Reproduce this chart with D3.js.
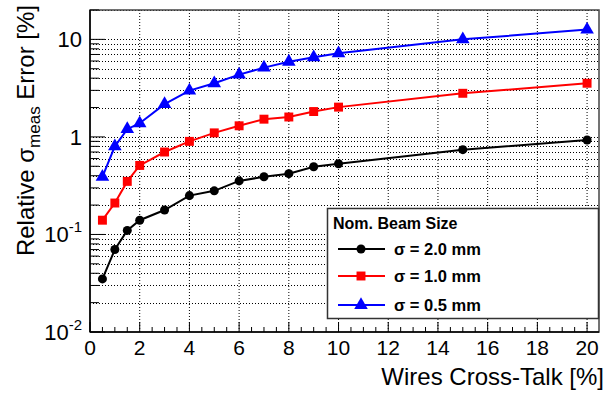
<!DOCTYPE html>
<html>
<head>
<meta charset="utf-8">
<script src="https://cdn.jsdelivr.net/npm/d3@7"></script>
<style>
  body { margin: 0; background: #fff; }
  svg { font-family: "Liberation Sans", Arial, sans-serif; }
</style>
</head>
<body>
<div id="chart"></div>
<script>
// wires cross-talk [%]
let crossTalk = [0.5, 1, 1.5, 2, 3, 4, 5, 6, 7, 8, 9, 10, 15, 20];
// relative sigma error [%] per beam size
let sigma20 = [0.035, 0.070, 0.11, 0.14, 0.178, 0.25, 0.28, 0.354, 0.39, 0.42, 0.495, 0.53, 0.74, 0.93];
let sigma10 = [0.14, 0.21, 0.35, 0.51, 0.70, 0.90, 1.1, 1.3, 1.52, 1.6, 1.82, 2.02, 2.8, 3.55];
let sigma05 = [0.39, 0.80, 1.2, 1.38, 2.17, 2.98, 3.55, 4.35, 5.13, 5.9, 6.55, 7.2, 10.0, 12.6];
let seriesNames = ['σ = 2.0 mm', 'σ = 1.0 mm', 'σ = 0.5 mm'];
let seriesColors = ['#000000', '#ff0000', '#0000ff'];
let seriesShapes = [d3.symbolCircle, d3.symbolSquare, d3.symbolTriangle];
let xTicks = [0, 2, 4, 6, 8, 10, 12, 14, 16, 18, 20];
let yMajor = [0.01, 0.1, 1, 10];
let yExp = ['-2', '-1', '', ''];

let width = 615, height = 393;
let margin = {left: 90, top: 10, right: 16, bottom: 61};
let w = width - margin.left - margin.right;
let h = height - margin.top - margin.bottom;

let svg = d3.select('#chart').append('svg')
    .attr('width', width)
    .attr('height', height);

let x = d3.scaleLinear().domain([0, 20.48]).range([margin.left, margin.left + w]);
let y = d3.scaleLog().domain([0.01, 20]).range([margin.top + h, margin.top]);

// minor log ticks
let yMinor = [];
[0.01, 0.1, 1, 10].forEach(function (d) {
    for (let k = 2; k <= 9; k++) {
        let v = d * k;
        if (v <= 20) yMinor.push(v);
    }
});
let xMinor = d3.range(0, 20.01, 0.5).filter(d => d % 2 != 0);

// grid
let grid = svg.append('g');
grid.selectAll('.gx')
    .data(xTicks.filter(d => d > 0))
    .enter().append('line')
    .attr('x1', d => x(d)).attr('x2', d => x(d))
    .attr('y1', margin.top).attr('y2', margin.top + h)
    .attr('stroke', '#000').attr('stroke-width', 1)
    .attr('stroke-dasharray', '1,2');
grid.selectAll('.gy')
    .data(yMajor.filter(d => d > 0.01).concat(yMinor))
    .enter().append('line')
    .attr('x1', margin.left).attr('x2', margin.left + w)
    .attr('y1', d => Math.round(y(d)) + 0.5).attr('y2', d => Math.round(y(d)) + 0.5)
    .attr('stroke', '#000').attr('stroke-width', 1)
    .attr('stroke-dasharray', '1,2');

// frame
svg.append('rect')
    .attr('x', margin.left).attr('y', margin.top)
    .attr('width', w).attr('height', h)
    .attr('fill', 'none').attr('stroke', '#444').attr('stroke-width', 1.5);

// axis ticks (inside)
let axes = svg.append('g').attr('stroke', '#000').attr('stroke-width', 1);
axes.selectAll('.xt')
    .data(xTicks)
    .enter().append('line')
    .attr('x1', d => x(d)).attr('x2', d => x(d))
    .attr('y1', margin.top + h).attr('y2', margin.top + h - 10);
axes.selectAll('.xm')
    .data(xMinor)
    .enter().append('line')
    .attr('x1', d => x(d)).attr('x2', d => x(d))
    .attr('y1', margin.top + h).attr('y2', margin.top + h - 5);
axes.selectAll('.yt')
    .data(yMajor)
    .enter().append('line')
    .attr('x1', margin.left).attr('x2', margin.left + 15)
    .attr('y1', d => y(d)).attr('y2', d => y(d));
axes.selectAll('.ym')
    .data(yMinor)
    .enter().append('line')
    .attr('x1', margin.left).attr('x2', margin.left + 9)
    .attr('y1', d => y(d)).attr('y2', d => y(d));
axes.append('line')
    .attr('x1', margin.left).attr('x2', margin.left + w)
    .attr('y1', margin.top + h).attr('y2', margin.top + h)
    .attr('stroke-width', 1.5);
axes.append('line')
    .attr('x1', margin.left).attr('x2', margin.left)
    .attr('y1', margin.top).attr('y2', margin.top + h)
    .attr('stroke-width', 1.5);

// tick labels
svg.selectAll('.xLabel')
    .data(xTicks)
    .enter().append('text')
    .text(d => d)
    .attr('x', d => x(d))
    .attr('y', 355)
    .style('text-anchor', 'middle')
    .style('font-size', '21px');

let yl = svg.selectAll('.yLabel')
    .data(yMajor)
    .enter().append('text')
    .attr('x', 82)
    .attr('y', d => y(d) + 8)
    .style('text-anchor', 'end')
    .style('font-size', '22px');
yl.append('tspan').text(d => d >= 1 ? d : '10');
yl.append('tspan')
    .text((d, i) => yExp[i])
    .attr('dy', -10)
    .style('font-size', '15px');

// axis titles
svg.append('text')
    .text('Wires Cross-Talk [%]')
    .attr('x', 604)
    .attr('y', 385)
    .style('text-anchor', 'end')
    .style('font-size', '24px');

let yt = svg.append('text')
    .attr('transform', 'translate(34,5) rotate(-90)')
    .style('text-anchor', 'end')
    .style('font-size', '24px');
yt.append('tspan').text('Relative σ');
yt.append('tspan').text('meas').attr('dy', 6).style('font-size', '17px');
yt.append('tspan').text(' Error [%]').attr('dy', -6);

// series
let allSeries = [sigma20, sigma10, sigma05];
let line = d3.line().x(d => x(d[0])).y(d => y(d[1]));
let symSize = [64, 80, 80];

allSeries.forEach(function (vals, i) {
    let pts = crossTalk.map((c, j) => [c, vals[j]]);
    svg.append('path')
        .datum(pts)
        .attr('d', line)
        .attr('fill', 'none')
        .attr('stroke', seriesColors[i])
        .attr('stroke-width', 2);
    svg.selectAll('.pt' + i)
        .data(pts)
        .enter().append('path')
        .attr('d', d3.symbol().type(seriesShapes[i]).size(symSize[i]))
        .attr('transform', d => 'translate(' + x(d[0]) + ',' + y(d[1]) + ')')
        .attr('fill', seriesColors[i]);
});

// legend
let lg = svg.append('g');
lg.append('rect')
    .attr('x', 327.5).attr('y', 208.5)
    .attr('width', 271).attr('height', 110)
    .attr('fill', '#fff').attr('stroke', '#333').attr('stroke-width', 1.5);
lg.append('text')
    .text('Nom. Beam Size')
    .attr('x', 333).attr('y', 229)
    .style('font-size', '16px').style('font-weight', 'bold');
let rowY = [249, 276, 305];
seriesNames.forEach(function (name, i) {
    lg.append('line')
        .attr('x1', 338).attr('x2', 385)
        .attr('y1', rowY[i]).attr('y2', rowY[i])
        .attr('stroke', seriesColors[i]).attr('stroke-width', 2);
    lg.append('path')
        .attr('d', d3.symbol().type(seriesShapes[i]).size(symSize[i]))
        .attr('transform', 'translate(361,' + rowY[i] + ')')
        .attr('fill', seriesColors[i]);
    lg.append('text')
        .text(name)
        .attr('x', 394).attr('y', rowY[i] + 6)
        .style('font-size', '16.5px').style('font-weight', 'bold');
});
</script>
</body>
</html>
